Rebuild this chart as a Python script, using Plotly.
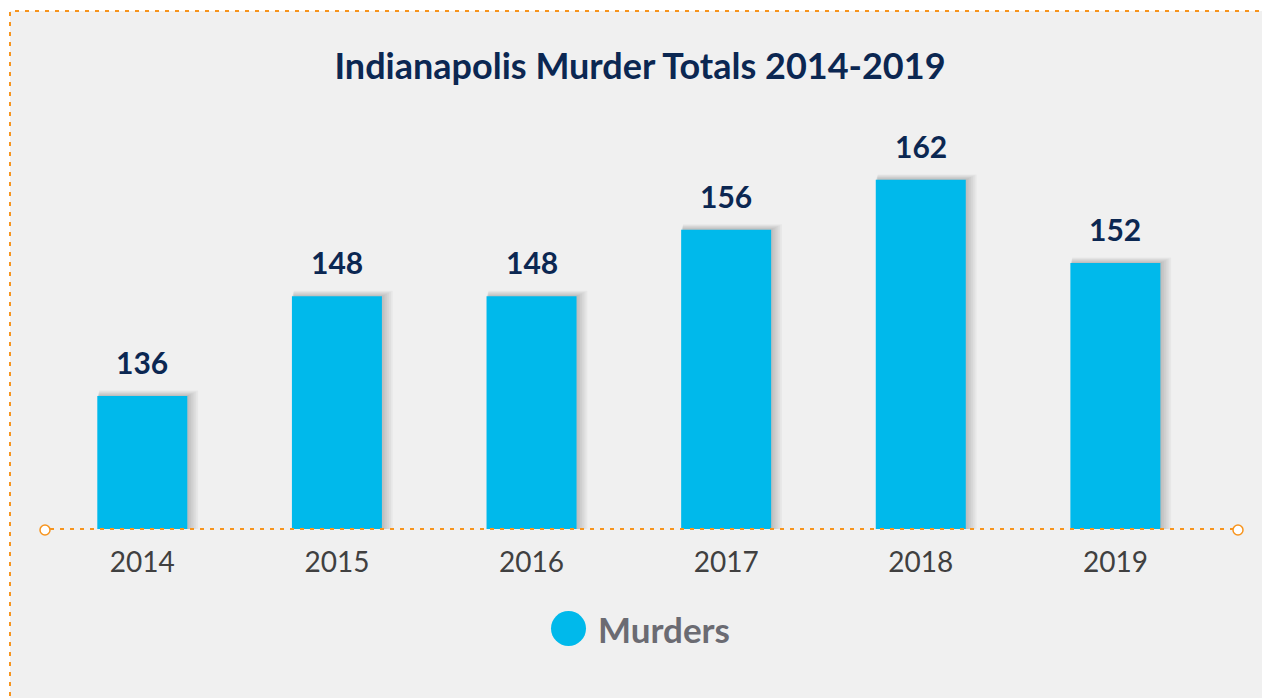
import plotly.graph_objects as go

years = ["2014", "2015", "2016", "2017", "2018", "2019"]
murders = [136, 148, 148, 156, 162, 152]
series_name = "Murders"
title_text = "Indianapolis Murder Totals 2014-2019"

BAR = "#00b9eb"
NAVY = "#0b2752"
ORANGE = "#f7941d"

OFF = 8  # page body margin
W, H = 1270, 698
ML = 45 - OFF
MT = 100 - OFF
MR = W - (1238 - OFF)
MB = H - (529 - OFF)
PW, PH = W - ML - MR, H - MT - MB
Y0, Y1 = 120, 171.6
X0, X1 = -0.5, 5.63
pxx = PW / (X1 - X0)
pxy = PH / (Y1 - Y0)
bw = 90 / pxx

def px(xp):
    return (xp - OFF - ML) / PW

def py(yp):
    return (H - MB - (yp - OFF)) / PH

fig = go.Figure()

# soft shadow layers
for k in range(1, 7):
    fig.add_trace(go.Bar(
        x=years, y=[v + k * 0.9 / pxy for v in murders],
        width=bw + (k * 1.5) / pxx,
        offset=-bw / 2 + (k * 0.3) / pxx,
        marker=dict(color="rgba(0,0,0,0.035)", line=dict(width=0)),
        showlegend=False, hoverinfo="skip",
    ))

fig.add_trace(go.Bar(
    x=years, y=murders, name=series_name, width=bw,
    marker=dict(color=BAR, line=dict(width=0)),
    showlegend=False,
))

annotations = []
for i, v in enumerate(murders):
    annotations.append(dict(
        x=i, y=v, xref="x", yref="y", text=str(v), showarrow=False,
        yshift=34, font=dict(family="Lato", size=30, color=NAVY, weight="bold"),
    ))

# custom legend
annotations.append(dict(
    x=px(596), y=py(629), xref="paper", yref="paper", text=series_name,
    showarrow=False, xanchor="left", yanchor="middle",
    font=dict(family="Lato", size=35, color="#6b6b72", weight="bold"),
))

shapes = [
    dict(type="rect", xref="paper", yref="paper", layer="below",
         x0=px(10), x1=px(1300), y0=py(730), y1=py(11),
         fillcolor="#f0f0f0",
         line=dict(color=ORANGE, width=2, dash="4px,6px")),
    dict(type="line", xref="paper", yref="paper", layer="above",
         x0=px(50), x1=px(1233), y0=0, y1=0,
         line=dict(color=ORANGE, width=2, dash="4px,6px")),
    dict(type="circle", xref="paper", yref="paper", layer="above",
         x0=px(40), x1=px(50), y0=py(535), y1=py(525),
         fillcolor="white", line=dict(color=ORANGE, width=1.5)),
    dict(type="circle", xref="paper", yref="paper", layer="above",
         x0=px(1233), x1=px(1243), y0=py(535), y1=py(525),
         fillcolor="white", line=dict(color=ORANGE, width=1.5)),
    dict(type="circle", xref="paper", yref="paper", layer="above",
         x0=px(551), x1=px(586), y0=py(646), y1=py(611),
         fillcolor=BAR, line=dict(width=0)),
]

fig.update_layout(
    width=W, height=H,
    margin=dict(l=ML, r=MR, t=MT, b=MB),
    paper_bgcolor="white", plot_bgcolor="rgba(0,0,0,0)",
    barmode="overlay",
    title=dict(text=title_text, x=px(640), xref="paper", xanchor="center",
               y=1 - (66 - OFF) / H, yanchor="middle",
               font=dict(family="Lato", size=36, color=NAVY, weight="bold")),
    xaxis=dict(type="category", range=[X0, X1], showgrid=False, zeroline=False,
               showline=False, ticks="", ticklabelstandoff=14,
               tickfont=dict(family="Lato", size=28, color="#404040")),
    yaxis=dict(range=[Y0, Y1], visible=False, showgrid=False),
    annotations=annotations, shapes=shapes,
    showlegend=False,
)

fig.write_html("out.html")
